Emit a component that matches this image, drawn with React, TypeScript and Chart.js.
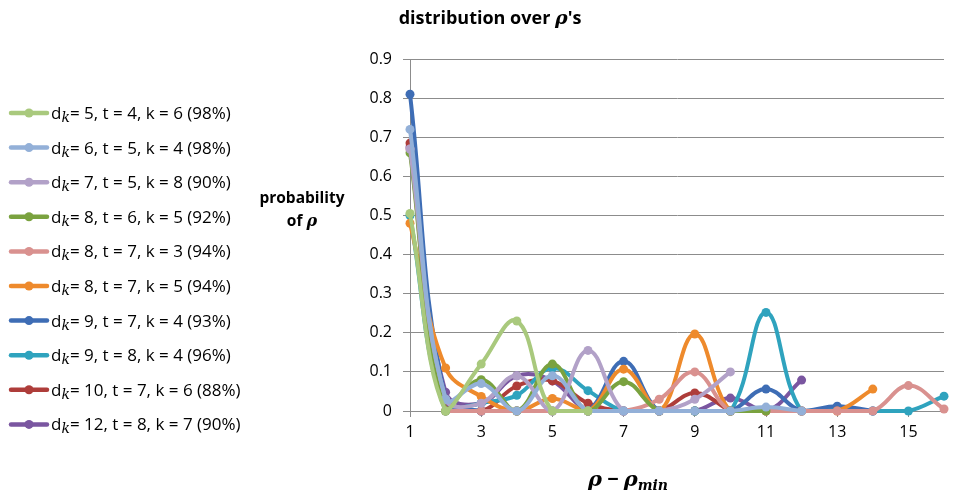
import React, { useEffect, useRef } from 'react';
import { Chart, registerables } from 'chart.js';

Chart.register(...registerables);

const categories = ['1', '2', '3', '4', '5', '6', '7', '8', '9', '10', '11', '12', '13', '14', '15', '16'];
const xTickLabels = ['1', '3', '5', '7', '9', '11', '13', '15'];

const seriesLabels = [
  'dₖ= 5, t = 4, k = 6 (98%)',
  'dₖ= 6, t = 5, k = 4 (98%)',
  'dₖ= 7, t = 5, k = 8 (90%)',
  'dₖ= 8, t = 6, k = 5 (92%)',
  'dₖ= 8, t = 7, k = 3 (94%)',
  'dₖ= 8, t = 7, k = 5 (94%)',
  'dₖ= 9, t = 7, k = 4 (93%)',
  'dₖ= 9, t = 8, k = 4 (96%)',
  'dₖ= 10, t = 7, k = 6 (88%)',
  'dₖ= 12, t = 8, k = 7 (90%)',
];

const d5t4k6 = [0.505, 0.0, 0.12, 0.23, 0.0, 0.0];
const d6t5k4 = [0.72, 0.03, 0.07, 0.0, 0.09, 0.0, 0.0, 0.0, 0.0, 0.0, 0.01, 0.0];
const d7t5k8 = [0.67, 0.03, 0.02, 0.09, 0.0, 0.155, 0.0, 0.0, 0.03, 0.1];
const d8t6k5 = [0.66, 0.0, 0.08, 0.0, 0.12, 0.0, 0.075, 0.0, 0.0, 0.0, 0.0];
const d8t7k3 = [0.67, 0.0, 0.0, 0.0, 0.0, 0.0, 0.0, 0.03, 0.1, 0.0, 0.0, 0.0, 0.0, 0.0, 0.065, 0.005];
const d8t7k5 = [0.48, 0.11, 0.037, 0.0, 0.032, 0.0, 0.107, 0.0, 0.197, 0.0, 0.0, 0.0, 0.0, 0.056];
const d9t7k4 = [0.81, 0.03, 0.0, 0.0, 0.0, 0.0, 0.127, 0.0, 0.0, 0.0, 0.056, 0.0, 0.012, 0.0];
const d9t8k4 = [0.5, 0.0, 0.02, 0.04, 0.11, 0.052, 0.0, 0.0, 0.0, 0.0, 0.252, 0.0, 0.004, 0.0, 0.0, 0.038];
const d10t7k6 = [0.685, 0.02, 0.0, 0.064, 0.077, 0.02, 0.0, 0.0, 0.046, 0.0];
const d12t8k7 = [0.675, 0.048, 0.02, 0.09, 0.077, 0.0, 0.0, 0.0, 0.0, 0.033, 0.0, 0.079];

const seriesValues = [d5t4k6, d6t5k4, d7t5k8, d8t6k5, d8t7k3, d8t7k5, d9t7k4, d9t8k4, d10t7k6, d12t8k7];

const seriesColors = [
  '#A9C97D',
  '#93B0D8',
  '#B2A1C8',
  '#7AA23F',
  '#D9918F',
  '#EE8A2C',
  '#3E6DB5',
  '#2FA3BE',
  '#AE3D3A',
  '#7A56A0',
];

const SANS = "'Open Sans', 'Noto Sans', sans-serif";
const SERIF = "'DejaVu Serif', 'Liberation Serif', serif";

type Run = { text: string; font: string; dy?: number };

function drawRuns(ctx: CanvasRenderingContext2D, runs: Run[], x: number, y: number, align: 'left' | 'center') {
  let total = 0;
  for (const r of runs) {
    ctx.font = r.font;
    total += ctx.measureText(r.text).width;
  }
  let cx = align === 'center' ? x - total / 2 : x;
  ctx.textAlign = 'left';
  ctx.textBaseline = 'alphabetic';
  for (const r of runs) {
    ctx.font = r.font;
    ctx.fillText(r.text, cx, y + (r.dy || 0));
    cx += ctx.measureText(r.text).width;
  }
}

const overlayPlugin = {
  id: 'overlay',
  afterDraw(chart: any) {
    const ctx: CanvasRenderingContext2D = chart.ctx;
    ctx.save();
    ctx.fillStyle = '#000';
    // title
    drawRuns(ctx, [
      { text: 'distribution over ', font: `bold 18px ${SANS}` },
      { text: 'ρ', font: `bold italic 19px ${SERIF}` },
      { text: "'s", font: `bold 18px ${SANS}` },
    ], 490, 24, 'center');
    // y title
    drawRuns(ctx, [{ text: 'probability', font: `bold 15.5px ${SANS}` }], 302, 203, 'center');
    drawRuns(ctx, [
      { text: 'of ', font: `bold 15.5px ${SANS}` },
      { text: 'ρ', font: `bold italic 16px ${SERIF}` },
    ], 302, 226, 'center');
    // x title
    drawRuns(ctx, [
      { text: 'ρ', font: `bold italic 21px ${SERIF}` },
      { text: ' − ', font: `bold 20px ${SANS}` },
      { text: 'ρ', font: `bold italic 21px ${SERIF}` },
      { text: 'min', font: `bold italic 14px ${SERIF}`, dy: 4 },
    ], 628, 486, 'center');
    // legend
    chart.data.datasets.forEach((ds: any, i: number) => {
      const cy = 113 + i * 34.6;
      ctx.strokeStyle = ds.borderColor;
      ctx.lineWidth = 4.5;
      ctx.lineCap = 'round';
      ctx.beginPath();
      ctx.moveTo(11, cy);
      ctx.lineTo(47, cy);
      ctx.stroke();
      ctx.fillStyle = ds.borderColor;
      ctx.beginPath();
      ctx.arc(29, cy, 4.5, 0, Math.PI * 2);
      ctx.fill();
      ctx.fillStyle = '#000';
      const parts = String(ds.label).split('ₖ');
      drawRuns(ctx, [
        { text: parts[0], font: `17px ${SANS}` },
        { text: 'k', font: `italic 14px ${SERIF}`, dy: 3 },
        { text: parts[1], font: `17px ${SANS}` },
      ], 51, cy + 6, 'left');
    });
    ctx.restore();
  },
};

export default function App() {
  const ref = useRef<HTMLCanvasElement | null>(null);
  useEffect(() => {
    if (!ref.current) return;
    const chart = new Chart(ref.current, {
      type: 'line',
      data: {
        labels: categories,
        datasets: seriesValues.map((vals, i) => ({
          label: seriesLabels[i],
          data: vals,
          borderColor: seriesColors[i],
          backgroundColor: seriesColors[i],
          borderWidth: 4,
          pointRadius: 4.5,
          pointBorderWidth: 0,
          pointHoverRadius: 4.5,
          tension: 0.4,
          fill: false,
          clip: false as any,
        })),
      },
      options: {
        responsive: false,
        animation: false,
        layout: { padding: { top: 59, right: 9, left: 0, bottom: 0 } },
        plugins: {
          legend: { display: false },
          title: { display: false },
          tooltip: { enabled: false },
        },
        scales: {
          x: {
            type: 'category',
            afterFit: (s: any) => { s.height = 82; },
            grid: {
              drawOnChartArea: false,
              drawTicks: true,
              tickLength: 6,
              color: (c: any) => (c.index % 2 === 0 ? '#8c8c8c' : 'rgba(0,0,0,0)'),
            },
            border: { display: true, color: '#8c8c8c' },
            ticks: {
              autoSkip: false,
              maxRotation: 0,
              padding: 6,
              color: '#000',
              font: { family: SANS, size: 16 },
              callback: (_v: any, idx: number) => (xTickLabels.includes(categories[idx]) ? categories[idx] : ''),
            },
          },
          y: {
            min: 0,
            max: 0.9,
            afterFit: (s: any) => { s.width = 410; },
            grid: { color: '#8c8c8c', lineWidth: 1, tickLength: 7 },
            border: { display: true, color: '#8c8c8c' },
            ticks: {
              stepSize: 0.1,
              padding: 11,
              color: '#000',
              font: { family: SANS, size: 16 },
              callback: (v: any) => String(Math.round(Number(v) * 10) / 10),
            },
          },
        },
      },
      plugins: [overlayPlugin],
    });
    return () => chart.destroy();
  }, []);
  return (
    <div style={{ position: 'absolute', left: 0, top: 0, width: 953, height: 493, background: '#fff' }}>
      <canvas ref={ref} width={953} height={493} />
    </div>
  );
}
